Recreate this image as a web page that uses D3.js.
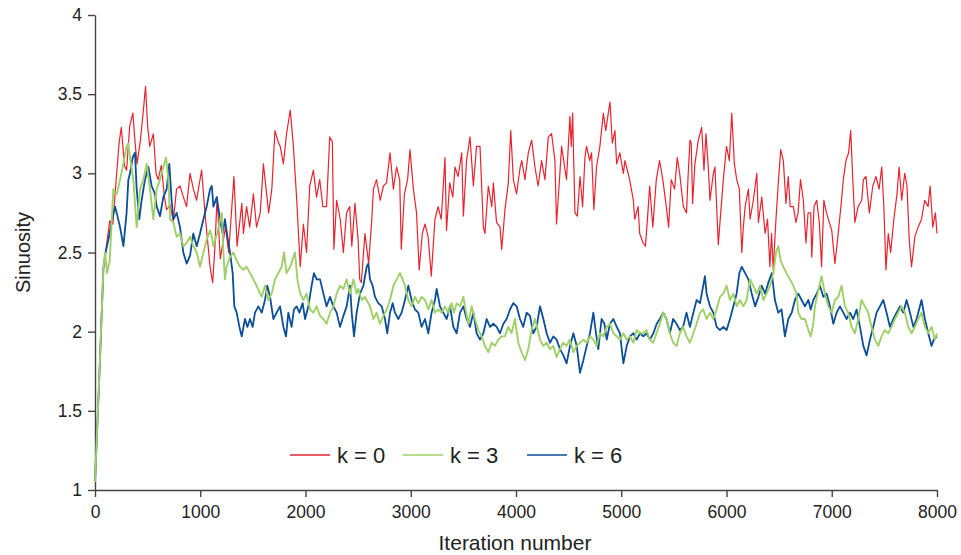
<!DOCTYPE html>
<html>
<head>
<meta charset="utf-8">
<title>Sinuosity</title>
<script src="https://d3js.org/d3.v7.min.js"></script>
<style>
  body { margin: 0; background: #fff; }
  svg { display: block; font-family: "Liberation Sans", Arial, sans-serif; }
  .axis path, .axis line { stroke: #444; stroke-width: 1.4; }
  .axis text { fill: #222; font-size: 17.5px; }
  .series { fill: none; stroke-linejoin: round; }
</style>
</head>
<body>
<script>
// [iteration, sinuosity]
const k0 = [[0,1.05],[40,1.7],[80,2.4],[110,2.55],[140,2.7],[170,2.68],[200,2.95],[230,3.2],[250,3.29],[280,3.05],[300,3.02],[330,3.3],[360,3.38],[380,3.2],[400,3.06],[430,3.2],[460,3.4],[480,3.55],[500,3.3],[520,3.17],[555,3.25],[580,3.0],[600,2.96],[630,3.05],[660,2.85],[680,2.77],[713,2.8],[744,2.7],[775,2.9],[808,2.92],[840,2.85],[870,2.79],[903,3.0],[935,2.9],[965,2.83],[1013,3.02],[1045,2.75],[1093,2.41],[1118,2.31],[1140,2.54],[1160,2.85],[1190,2.46],[1240,2.66],[1270,2.5],[1320,2.98],[1350,2.54],[1395,2.81],[1410,2.62],[1440,2.79],[1470,2.66],[1505,2.87],[1535,2.66],[1570,2.75],[1600,3.06],[1650,2.75],[1680,2.9],[1710,3.27],[1740,3.2],[1760,3.17],[1790,3.06],[1820,3.25],[1855,3.4],[1885,3.17],[1915,2.85],[1950,2.41],[1980,2.68],[2010,2.5],[2040,2.92],[2075,3.02],[2105,2.85],[2135,2.96],[2165,2.79],[2200,2.79],[2230,3.23],[2255,3.2],[2270,2.52],[2296,2.83],[2330,2.71],[2360,2.5],[2390,2.75],[2420,2.79],[2440,2.54],[2470,2.81],[2500,2.58],[2515,2.33],[2530,2.31],[2565,2.62],[2600,2.43],[2630,2.71],[2645,2.9],[2675,2.96],[2710,2.83],[2740,2.92],[2770,2.94],[2803,3.13],[2835,2.9],[2865,3.04],[2895,2.96],[2910,2.52],[2940,2.87],[2970,2.96],[2993,3.15],[3025,2.9],[3055,2.75],[3080,2.39],[3110,2.62],[3135,2.68],[3165,2.6],[3195,2.35],[3230,2.71],[3260,2.79],[3290,2.71],[3325,3.1],[3340,2.64],[3370,2.94],[3400,2.85],[3420,3.04],[3450,2.98],[3484,3.13],[3500,2.73],[3530,3.08],[3563,3.23],[3595,2.92],[3625,3.17],[3658,3.17],[3690,2.66],[3705,2.62],[3737,2.92],[3770,2.79],[3785,2.94],[3815,2.69],[3848,2.66],[3864,2.52],[3895,2.77],[3927,2.94],[3950,3.27],[3975,2.96],[4005,2.87],[4040,3.04],[4055,3.08],[4085,2.96],[4117,3.13],[4149,3.21],[4180,3.04],[4210,2.92],[4243,3.08],[4275,2.96],[4307,3.23],[4338,3.25],[4370,3.08],[4385,2.68],[4415,2.98],[4433,3.17],[4480,2.96],[4512,3.36],[4525,3.17],[4538,3.38],[4560,2.75],[4583,2.73],[4608,2.98],[4633,2.79],[4655,3.1],[4670,3.17],[4700,3.08],[4718,3.13],[4740,2.77],[4765,3.04],[4797,3.17],[4830,3.38],[4853,3.27],[4877,3.38],[4893,3.45],[4915,3.19],[4940,3.27],[4956,3.06],[4987,3.13],[5020,3.0],[5035,3.08],[5080,2.96],[5115,2.83],[5128,2.71],[5160,2.79],[5175,2.62],[5208,2.56],[5230,2.54],[5253,2.75],[5270,2.92],[5300,2.66],[5333,2.96],[5364,3.08],[5395,2.96],[5428,2.79],[5450,2.66],[5475,2.96],[5507,2.9],[5532,3.1],[5555,3.0],[5590,2.79],[5620,2.75],[5635,2.98],[5653,3.21],[5665,3.19],[5678,2.81],[5700,3.06],[5732,3.21],[5764,3.29],[5786,3.02],[5805,3.25],[5827,3.04],[5843,2.83],[5875,3.0],[5890,3.04],[5922,2.55],[5945,2.75],[5970,2.96],[6000,3.17],[6027,3.08],[6050,3.38],[6075,3.06],[6097,2.96],[6122,2.9],[6145,2.5],[6160,2.66],[6177,2.79],[6208,2.9],[6224,2.71],[6255,2.83],[6288,3.0],[6303,2.69],[6335,2.85],[6367,2.62],[6390,2.71],[6412,2.41],[6428,2.62],[6444,2.39],[6470,2.71],[6490,2.92],[6515,3.15],[6540,3.08],[6565,2.81],[6587,2.98],[6605,2.79],[6635,2.79],[6660,2.69],[6680,2.75],[6703,2.96],[6730,2.83],[6755,2.56],[6775,2.75],[6800,2.75],[6810,2.47],[6832,2.79],[6857,2.83],[6882,2.69],[6903,2.41],[6925,2.83],[6950,2.75],[6977,2.69],[7000,2.64],[7030,2.43],[7055,2.58],[7084,2.77],[7110,2.96],[7135,3.08],[7160,3.13],[7180,3.27],[7200,2.96],[7220,2.69],[7250,2.79],[7285,2.83],[7300,2.96],[7325,2.98],[7357,2.75],[7390,2.92],[7420,2.98],[7450,2.9],[7475,3.04],[7495,2.79],[7515,2.39],[7537,2.62],[7560,2.5],[7590,2.71],[7620,2.87],[7640,3.04],[7665,2.83],[7693,3.0],[7715,2.92],[7736,2.58],[7758,2.41],[7790,2.6],[7820,2.66],[7853,2.71],[7883,2.83],[7915,2.79],[7935,2.92],[7960,2.66],[7985,2.75],[8000,2.62]];

const k3 = [[0,1.05],[40,1.7],[80,2.4],[95,2.5],[115,2.37],[140,2.45],[174,2.9],[206,2.87],[238,2.96],[270,3.06],[300,3.17],[317,3.19],[333,3.1],[364,2.96],[396,2.66],[428,2.9],[460,2.96],[491,3.06],[523,2.9],[554,2.71],[586,2.9],[618,2.96],[649,3.04],[675,3.1],[697,2.96],[713,2.71],[744,2.69],[776,2.6],[808,2.62],[839,2.54],[871,2.56],[903,2.6],[934,2.54],[966,2.5],[998,2.41],[1030,2.5],[1061,2.58],[1093,2.64],[1110,2.6],[1125,2.54],[1160,2.62],[1190,2.71],[1205,2.75],[1220,2.5],[1235,2.33],[1250,2.41],[1283,2.47],[1315,2.5],[1345,2.45],[1378,2.41],[1410,2.39],[1440,2.41],[1473,2.37],[1505,2.33],[1536,2.29],[1568,2.24],[1584,2.22],[1615,2.29],[1647,2.2],[1678,2.24],[1710,2.33],[1742,2.37],[1773,2.41],[1795,2.5],[1820,2.37],[1855,2.41],[1885,2.47],[1900,2.5],[1923,2.33],[1950,2.24],[1980,2.2],[2010,2.24],[2043,2.14],[2075,2.12],[2106,2.16],[2138,2.1],[2170,2.08],[2200,2.05],[2233,2.12],[2265,2.16],[2296,2.24],[2328,2.29],[2360,2.27],[2391,2.33],[2423,2.24],[2455,2.33],[2486,2.24],[2502,2.27],[2534,2.2],[2565,2.22],[2581,2.2],[2613,2.16],[2645,2.08],[2676,2.12],[2708,2.05],[2740,2.1],[2771,2.14],[2803,2.2],[2835,2.29],[2866,2.33],[2898,2.37],[2923,2.33],[2945,2.29],[2977,2.2],[3008,2.16],[3040,2.22],[3072,2.18],[3103,2.22],[3135,2.2],[3167,2.14],[3198,2.2],[3230,2.12],[3262,2.14],[3293,2.12],[3325,2.16],[3356,2.12],[3388,2.18],[3410,2.12],[3436,2.18],[3468,2.16],[3500,2.22],[3515,2.16],[3547,2.05],[3579,2.16],[3610,2.08],[3642,2.01],[3674,1.97],[3705,1.91],[3737,1.87],[3769,1.93],[3800,1.91],[3832,1.95],[3864,1.97],[3895,1.97],[3927,2.03],[3958,1.99],[3990,2.08],[4022,1.93],[4053,1.87],[4085,1.82],[4117,1.89],[4148,2.01],[4180,2.08],[4200,2.03],[4228,1.95],[4260,1.91],[4291,1.93],[4323,1.89],[4355,1.91],[4385,1.84],[4418,1.89],[4448,1.93],[4480,1.91],[4510,1.95],[4545,1.87],[4577,1.91],[4608,1.93],[4640,1.95],[4672,1.93],[4703,1.97],[4735,1.95],[4767,1.91],[4798,1.99],[4830,1.97],[4862,2.03],[4893,2.05],[4925,1.99],[4957,1.97],[4988,1.95],[5020,1.99],[5052,1.95],[5083,1.97],[5115,1.93],[5147,2.01],[5177,1.99],[5210,1.99],[5240,2.01],[5273,1.95],[5303,1.93],[5335,1.99],[5367,2.05],[5398,2.12],[5430,2.08],[5462,1.99],[5493,1.93],[5525,1.91],[5557,1.99],[5588,2.03],[5620,1.97],[5652,1.93],[5685,1.99],[5716,2.05],[5748,2.12],[5779,2.14],[5811,2.08],[5843,2.12],[5875,2.08],[5906,2.14],[5938,2.22],[5970,2.24],[6001,2.29],[6033,2.2],[6065,2.24],[6096,2.16],[6128,2.2],[6160,2.16],[6191,2.2],[6223,2.33],[6255,2.29],[6286,2.24],[6318,2.29],[6350,2.2],[6380,2.24],[6413,2.29],[6445,2.37],[6470,2.5],[6492,2.54],[6514,2.45],[6540,2.41],[6570,2.37],[6603,2.33],[6635,2.29],[6665,2.24],[6682,2.12],[6713,2.08],[6745,2.08],[6778,2.01],[6800,1.97],[6825,2.05],[6840,2.16],[6872,2.26],[6903,2.35],[6935,2.24],[6967,2.16],[7000,2.12],[7030,2.2],[7062,2.22],[7093,2.29],[7125,2.16],[7157,2.12],[7188,2.03],[7220,1.99],[7252,2.08],[7283,2.2],[7315,2.16],[7347,2.12],[7378,2.03],[7410,1.95],[7442,1.91],[7473,1.97],[7505,2.01],[7537,1.99],[7568,2.03],[7600,2.08],[7632,2.12],[7663,2.16],[7695,2.12],[7727,2.03],[7758,1.99],[7790,2.03],[7822,2.08],[7853,2.12],[7885,2.03],[7917,1.99],[7948,2.03],[7980,1.95],[8000,1.99]];

const k6 = [[0,1.05],[40,1.7],[80,2.4],[100,2.5],[127,2.58],[158,2.69],[190,2.79],[206,2.75],[238,2.66],[270,2.54],[300,2.75],[317,2.96],[333,3.0],[358,3.1],[380,3.13],[396,2.9],[421,2.71],[443,2.83],[475,2.96],[507,3.04],[538,2.92],[570,2.87],[586,2.79],[618,2.73],[649,2.85],[681,2.9],[706,3.06],[728,2.83],[744,2.71],[776,2.75],[808,2.66],[839,2.5],[871,2.43],[903,2.48],[934,2.62],[966,2.54],[998,2.62],[1030,2.71],[1061,2.79],[1093,2.9],[1110,2.92],[1125,2.79],[1157,2.85],[1188,2.71],[1213,2.62],[1235,2.71],[1258,2.6],[1283,2.5],[1308,2.37],[1324,2.16],[1346,2.12],[1372,2.03],[1394,1.97],[1425,2.08],[1448,2.03],[1473,2.08],[1498,2.03],[1520,2.12],[1552,2.16],[1584,2.12],[1615,2.2],[1637,2.29],[1663,2.22],[1695,2.08],[1726,2.12],[1758,2.16],[1790,2.03],[1815,1.97],[1837,2.12],[1868,2.03],[1890,2.14],[1916,2.16],[1942,2.12],[1973,2.18],[1996,2.08],[2027,2.16],[2058,2.29],[2080,2.37],[2106,2.33],[2138,2.33],[2170,2.24],[2200,2.16],[2233,2.22],[2265,2.16],[2296,2.12],[2328,2.03],[2360,2.1],[2391,2.16],[2423,2.29],[2439,2.12],[2461,1.97],[2486,2.12],[2518,2.24],[2550,2.29],[2581,2.41],[2597,2.43],[2613,2.33],[2638,2.29],[2660,2.22],[2692,2.18],[2724,2.16],[2755,2.08],[2777,1.99],[2803,2.12],[2828,2.18],[2850,2.12],[2882,2.08],[2913,2.12],[2945,2.2],[2977,2.29],[3008,2.2],[3040,2.14],[3072,2.12],[3103,2.03],[3135,2.08],[3167,1.99],[3198,2.12],[3230,2.2],[3246,2.27],[3278,2.16],[3309,2.12],[3341,2.08],[3373,2.16],[3405,2.03],[3436,1.99],[3468,2.12],[3500,2.16],[3531,2.08],[3563,2.03],[3595,2.12],[3626,1.99],[3658,1.95],[3690,1.99],[3721,2.08],[3753,2.03],[3785,2.05],[3816,2.03],[3848,1.99],[3880,2.05],[3911,2.08],[3943,2.14],[3974,2.18],[4006,2.16],[4038,2.08],[4069,2.03],[4101,2.12],[4133,2.1],[4164,1.99],[4196,2.03],[4228,2.16],[4260,2.08],[4291,1.99],[4323,1.93],[4355,1.97],[4386,1.95],[4418,1.89],[4450,1.85],[4481,1.8],[4513,1.91],[4545,1.99],[4577,1.91],[4608,1.74],[4640,1.82],[4672,1.91],[4703,1.99],[4735,2.12],[4760,1.99],[4782,1.89],[4813,2.08],[4840,2.05],[4862,1.95],[4893,2.05],[4925,2.08],[4957,2.03],[4988,1.99],[5020,1.8],[5052,1.91],[5083,1.97],[5115,1.99],[5147,1.95],[5178,1.99],[5210,1.97],[5242,1.99],[5273,1.95],[5305,1.99],[5337,2.05],[5367,2.08],[5398,2.12],[5430,2.08],[5462,1.99],[5493,2.08],[5525,2.05],[5557,2.01],[5588,2.03],[5620,2.12],[5652,2.03],[5685,2.12],[5716,2.2],[5748,2.18],[5779,2.29],[5795,2.35],[5811,2.24],[5843,2.16],[5875,2.12],[5906,2.03],[5938,2.01],[5970,2.03],[6001,2.01],[6033,2.08],[6065,2.16],[6096,2.24],[6122,2.37],[6145,2.41],[6177,2.37],[6208,2.33],[6240,2.24],[6272,2.16],[6303,2.22],[6335,2.29],[6367,2.24],[6398,2.31],[6430,2.37],[6460,2.2],[6492,2.12],[6523,2.14],[6555,1.97],[6587,2.08],[6620,2.12],[6650,2.2],[6682,2.24],[6713,2.2],[6745,2.16],[6778,2.2],[6800,2.14],[6825,2.2],[6857,2.24],[6888,2.29],[6920,2.22],[6951,2.24],[6983,2.16],[7015,2.05],[7046,2.12],[7078,2.16],[7110,2.12],[7141,2.08],[7173,2.12],[7204,2.08],[7236,2.14],[7268,2.03],[7300,1.91],[7331,1.85],[7363,1.95],[7394,2.03],[7426,2.12],[7458,2.16],[7490,2.2],[7521,2.12],[7553,2.03],[7585,2.08],[7616,2.12],[7648,2.16],[7680,2.12],[7711,2.2],[7743,2.12],[7775,2.03],[7806,2.08],[7838,2.16],[7853,2.2],[7885,2.08],[7917,1.99],[7948,1.91],[7970,1.95],[8000,1.97]];

const seriesNames = ["k = 0", "k = 3", "k = 6"];
const xTicks = [0, 1000, 2000, 3000, 4000, 5000, 6000, 7000, 8000];
const yTicks = [1, 1.5, 2, 2.5, 3, 3.5, 4];

const width = 961, height = 555;
const margin = {top: 15, right: 24, bottom: 65, left: 95};

const svg = d3.select("body").append("svg")
  .attr("width", width)
  .attr("height", height);

const x = d3.scaleLinear().domain([0, 8000]).range([margin.left, width - margin.right]);
const y = d3.scaleLinear().domain([1, 4]).range([height - margin.bottom, margin.top]);

// axes
svg.append("g")
  .attr("class", "axis")
  .attr("transform", `translate(0,${height - margin.bottom})`)
  .call(d3.axisBottom(x).tickValues(xTicks).tickSize(7).tickSizeOuter(0).tickPadding(6).tickFormat(d => d))
  .call(g => g.selectAll("text").attr("dy", "0.85em"));

svg.append("g")
  .attr("class", "axis")
  .attr("transform", `translate(${margin.left},0)`)
  .call(d3.axisLeft(y).tickValues(yTicks).tickSize(7).tickSizeOuter(0).tickPadding(6).tickFormat(d => d));

svg.append("text")
  .attr("transform", `translate(30,${(margin.top + height - margin.bottom) / 2}) rotate(-90)`)
  .attr("text-anchor", "middle")
  .attr("font-size", 20)
  .attr("fill", "#222")
  .text("Sinuosity");

svg.append("text")
  .attr("x", 515)
  .attr("y", 550)
  .attr("text-anchor", "middle")
  .attr("font-size", 21)
  .attr("fill", "#222")
  .text("Iteration number");

// lines
const line = d3.line().x(d => x(d[0])).y(d => y(d[1]));
const colors = ["#e8232f", "#9fd067", "#0b4f99"];
const widths = [1.2, 1.9, 1.8];
const data = [k0, k3, k6];
const order = [0, 2, 1]; // green drawn over blue

order.forEach(i => {
  svg.append("path")
    .datum(data[i])
    .attr("class", "series")
    .attr("stroke", colors[i])
    .attr("stroke-width", widths[i])
    .attr("d", line);
});

// legend
const legendX = [290, 403, 527];
const lg = svg.append("g").attr("transform", "translate(0,455)");
seriesNames.forEach((name, i) => {
  lg.append("line")
    .attr("x1", legendX[i]).attr("x2", legendX[i] + 40)
    .attr("y1", 0).attr("y2", 0)
    .attr("stroke", colors[i])
    .attr("stroke-width", 1.4);
  lg.append("text")
    .attr("x", legendX[i] + 47)
    .attr("y", 8)
    .attr("font-size", 22)
    .attr("fill", "#222")
    .text(name);
});
</script>
</body>
</html>
